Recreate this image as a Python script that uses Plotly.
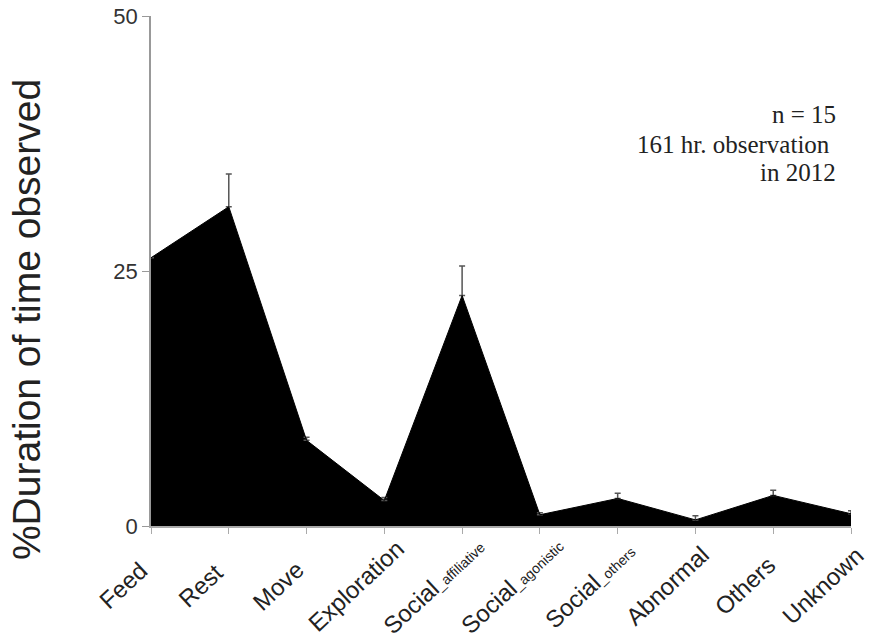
import plotly.graph_objects as go

categories = ["Feed", "Rest", "Move", "Exploration", "Social_affiliative", "Social_agonistic",
              "Social_others", "Abnormal", "Others", "Unknown"]
tick_labels = ["Feed", "Rest", "Move", "Exploration",
               "Social<span style='font-size:14px'>_affiliative</span>",
               "Social<span style='font-size:14px'>_agonistic</span>",
               "Social<span style='font-size:14px'>_others</span>",
               "Abnormal", "Others", "Unknown"]
values = [26.3, 31.3, 8.4, 2.5, 22.6, 1.1, 2.7, 0.6, 3.0, 1.2]
err_plus = [None, 3.2, 0.3, 0.3, 2.9, 0.2, 0.5, 0.4, 0.5, 0.3]
err_minus = [0, 0, 0, 0, 0, 0, 0, 0, 0, 0]
y_ticks = [0, 25, 50]
note_lines = ["n = 15", "161 hr. observation ", "in 2012"]

fig = go.Figure()
fig.add_trace(go.Scatter(
    x=categories, y=values, mode="lines", fill="tozeroy",
    fillcolor="black", line=dict(color="black", width=1),
    error_y=dict(type="data", symmetric=False, array=err_plus, arrayminus=err_minus,
                 color="#555555", thickness=1.5, width=3),
    showlegend=False, cliponaxis=False, hoverinfo="skip",
))

fig.update_layout(
    width=893, height=644,
    margin=dict(l=151, r=42, t=16, b=118),
    paper_bgcolor="white", plot_bgcolor="white",
    font=dict(family="Liberation Sans, Arial, sans-serif", color="#222222"),
    xaxis=dict(
        type="category", range=[0, 9], automargin=False,
        tickvals=categories, showticklabels=False,
        showline=True, linecolor="#aaaaaa", linewidth=1.5,
        ticks="outside", ticklen=6, tickcolor="#aaaaaa",
        showgrid=False, zeroline=False,
    ),
    yaxis=dict(
        range=[0, 50], tickvals=y_ticks, automargin=False,
        tickfont=dict(size=22, color="#333333"), ticklabeloverflow="allow",
        showline=True, linecolor="#999999", linewidth=1.5,
        ticks="outside", ticklen=7, tickcolor="#999999",
        showgrid=False, zeroline=False,
    ),
)

# rotated category labels, centred below each category
for cat, lab in zip(categories, tick_labels):
    fig.add_annotation(
        text=lab, x=cat, xref="x", y=-0.117, yref="paper",
        xanchor="center", yanchor="middle", xshift=-28,
        textangle=-43, showarrow=False,
        font=dict(size=24, color="#222222", family="Liberation Sans, Arial, sans-serif"),
    )

fig.add_annotation(
    text="%Duration of time observed", textangle=-90,
    xref="paper", yref="paper", x=-0.177, y=0.404,
    xanchor="center", yanchor="middle", showarrow=False,
    font=dict(size=39, color="#222222", family="Liberation Sans, Arial, sans-serif"),
)

note_y = [40.3, 37.45, 34.7]
for line, yy in zip(note_lines, note_y):
    fig.add_annotation(
        text=line, xref="paper", yref="y", x=0.981, y=yy,
        xanchor="right", yanchor="middle", showarrow=False,
        font=dict(size=25, color="#222222", family="Liberation Serif, DejaVu Serif, serif"),
    )

fig.write_html("out.html", config={"displayModeBar": False},
               post_script="document.body.style.margin='0';")
